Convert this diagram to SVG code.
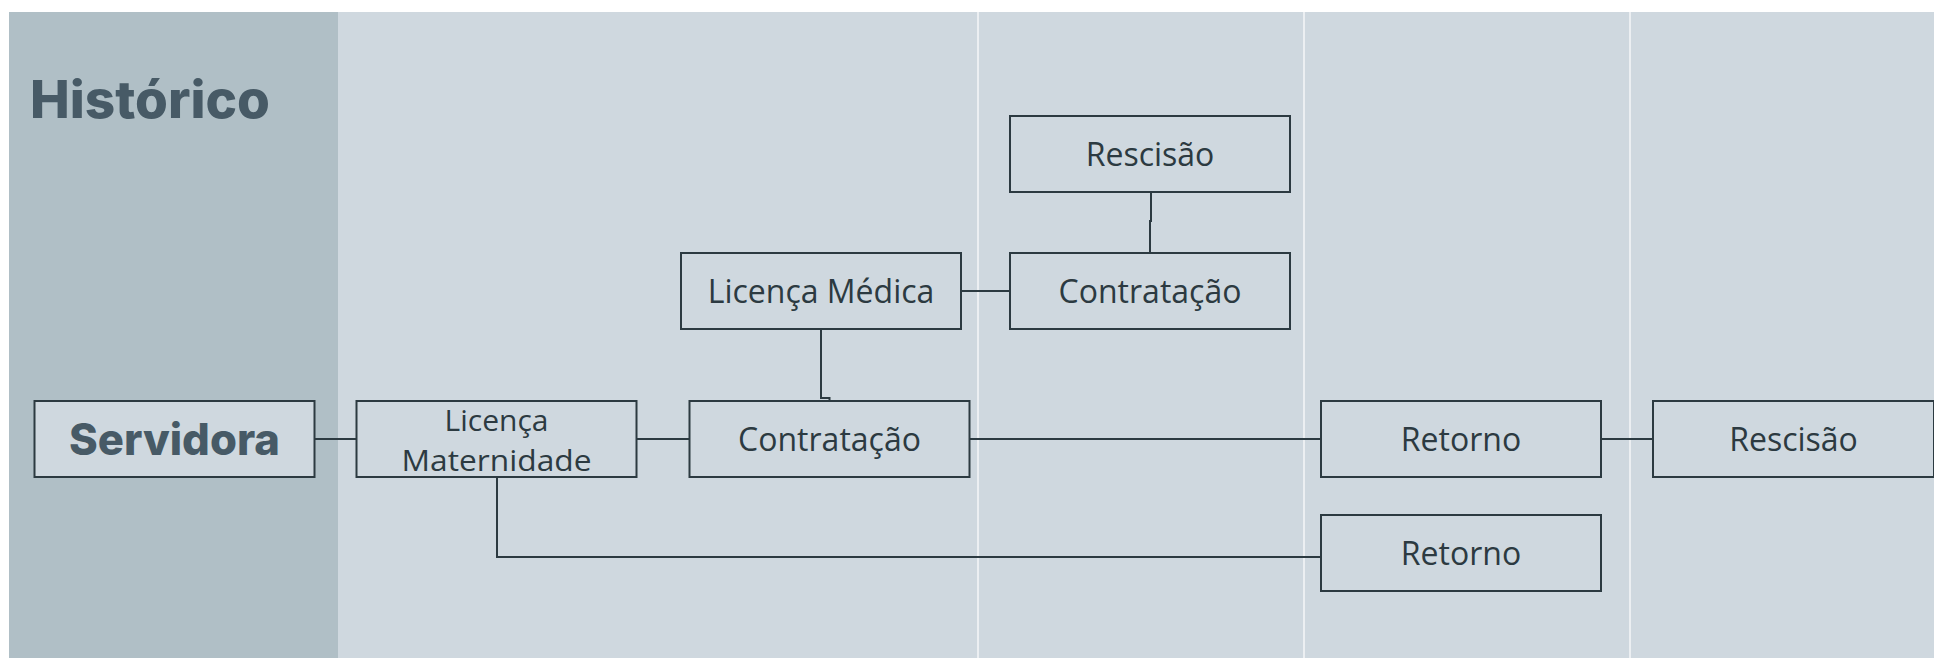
<svg xmlns="http://www.w3.org/2000/svg" width="1934" height="658" viewBox="0 0 1934 658">
<style>
.box{fill:#cfd8df;stroke:#2c3a41;stroke-width:2}
.t{font-family:"Open Sans","Noto Sans",sans-serif;font-size:32px;fill:#2c3a41;text-anchor:middle}
.t2{font-size:30px}
.h{font-family:Inter,"Liberation Sans",sans-serif;font-weight:800;fill:#475a66}
.c{fill:none;stroke:#2c3a41;stroke-width:2}
.div{stroke:#ffffff;stroke-width:1.2}
</style>
<rect x="0" y="0" width="1934" height="658" fill="#ffffff"/>
<rect x="9" y="12" width="1925" height="646" fill="#cfd8df"/>
<rect x="9" y="12" width="329" height="646" fill="#b0bfc6"/>
<line class="div" x1="978" y1="12" x2="978" y2="658"/>
<line class="div" x1="1304" y1="12" x2="1304" y2="658"/>
<line class="div" x1="1630" y1="12" x2="1630" y2="658"/>
<text class="h" x="30" y="118" font-size="52" textLength="240" lengthAdjust="spacingAndGlyphs">Histórico</text>
<g id="connectors">
<path class="c" d="M314.5 439H356.5"/>
<path class="c" d="M636.5 439H689.5"/>
<path class="c" d="M497 477V557H1321"/>
<path class="c" d="M969.5 439H1321"/>
<path class="c" d="M1601 439H1653"/>
<path class="c" d="M821 329V398H829.5V401"/>
<path class="c" d="M961 291H1010"/>
<path class="c" d="M1151 192V221H1150V253"/>
</g>
<g id="servidora"><rect class="box" x="34.5" y="401" width="280" height="76"/><text class="h" x="69" y="455" font-size="44" textLength="211" lengthAdjust="spacingAndGlyphs">Servidora</text></g>
<g id="licenca-maternidade"><rect class="box" x="356.5" y="401" width="280" height="76"/><text class="t t2" x="496.5" y="431">Licença</text><text class="t t2" x="496.5" y="471" textLength="190" lengthAdjust="spacingAndGlyphs">Maternidade</text></g>
<g id="contratacao-1"><rect class="box" x="689.5" y="401" width="280" height="76"/><text class="t" x="829.5" y="451">Contratação</text></g>
<g id="retorno-1"><rect class="box" x="1321" y="401" width="280" height="76"/><text class="t" x="1461" y="451">Retorno</text></g>
<g id="rescisao-2"><rect class="box" x="1653" y="401" width="281" height="76"/><text class="t" x="1793.5" y="451">Rescisão</text></g>
<g id="retorno-2"><rect class="box" x="1321" y="515" width="280" height="76"/><text class="t" x="1461" y="565">Retorno</text></g>
<g id="licenca-medica"><rect class="box" x="681" y="253" width="280" height="76"/><text class="t" x="821" y="303">Licença Médica</text></g>
<g id="contratacao-2"><rect class="box" x="1010" y="253" width="280" height="76"/><text class="t" x="1150" y="303">Contratação</text></g>
<g id="rescisao-1"><rect class="box" x="1010" y="116" width="280" height="76"/><text class="t" x="1150" y="166">Rescisão</text></g>
</svg>
